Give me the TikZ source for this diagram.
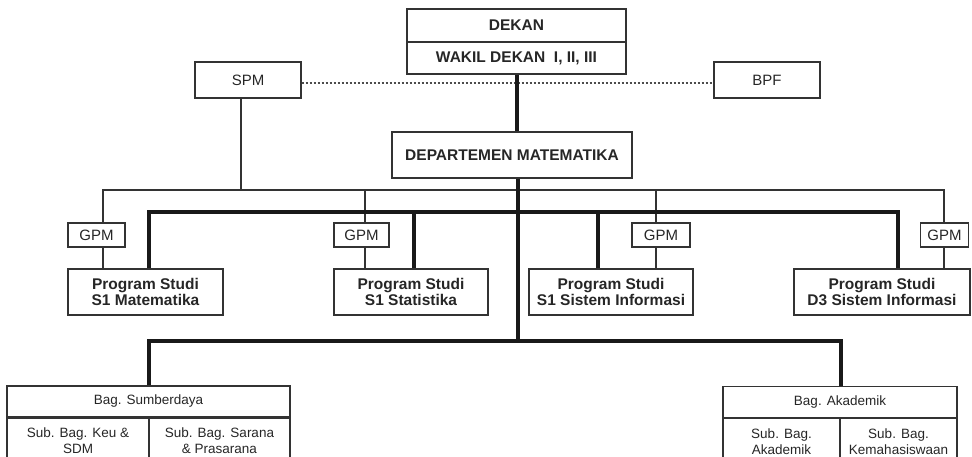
\documentclass[tikz,border=0pt]{standalone}
\usepackage{fontspec}
\setmainfont{Liberation Sans}
\begin{document}
\begin{tikzpicture}[x=1pt,y=-1pt,
  box/.style={draw=black!80, line width=1.3pt, rectangle, inner sep=0pt, align=center, text=black!85},
  title/.style={font=\fontsize{15.5}{16}\selectfont\bfseries},
  label/.style={font=\fontsize{15}{16}\selectfont},
  unit/.style={font=\fontsize{13.5}{16}\selectfont},
  thinline/.style={line width=1.3pt, draw=black!80},
  thickline/.style={line width=3.2pt, draw=black!90},
  dashline/.style={line width=1.4pt, draw=black!70, dash pattern=on 2.5pt off 1.5pt},
]
\clip (0,0) rectangle (972,456);
\useasboundingbox (0,0) rectangle (972,456);

% top management
\node[box,title,minimum width=219pt,minimum height=33pt] (dekan) at (516.5,25.5) {DEKAN};
\node[box,title,minimum width=219pt,minimum height=32pt] (wakil) at (516.5,58) {WAKIL DEKAN\ \ I, II, III};
\node[box,label,minimum width=106pt,minimum height=36pt] (spm) at (248,80) {SPM};
\node[box,label,minimum width=106pt,minimum height=36pt] (bpf) at (767,80) {BPF};
\node[box,title,minimum width=240pt,minimum height=46pt] (dept) at (512,155) {DEPARTEMEN MATEMATIKA};

% quality units
\node[box,label,minimum width=57pt,minimum height=24pt] (gpm1) at (96.5,235) {GPM};
\node[box,label,minimum width=55pt,minimum height=24pt] (gpm2) at (361.5,235) {GPM};
\node[box,label,minimum width=58pt,minimum height=24pt] (gpm3) at (661,235) {GPM};
\node[box,label,minimum width=48pt,minimum height=24pt] (gpm4) at (944.5,235) {GPM};

% study programmes
\node[box,title,minimum width=155pt,minimum height=46pt] (ps1) at (145.5,292) {Program Studi\\S1 Matematika};
\node[box,title,minimum width=154pt,minimum height=46pt] (ps2) at (411,292) {Program Studi\\S1 Statistika};
\node[box,title,minimum width=164pt,minimum height=46pt] (ps3) at (611,292) {Program Studi\\S1 Sistem Informasi};
\node[box,title,minimum width=176pt,minimum height=46pt] (ps4) at (882,292) {Program Studi\\D3 Sistem Informasi};

% administration
\node[box,unit,minimum width=283pt,minimum height=31pt] (bagS) at (148.5,401.5) {Bag. Sumberdaya};
\node[box,unit,minimum width=142pt,minimum height=45pt,anchor=north west] (keu) at (bagS.south west) {Sub. Bag. Keu \&\\SDM};
\node[box,unit,minimum width=141pt,minimum height=45pt,anchor=north east] (sarana) at (bagS.south east) {Sub. Bag. Sarana\\\& Prasarana};
\node[box,unit,minimum width=234pt,minimum height=31pt] (bagA) at (840,402) {Bag. Akademik};
\node[box,unit,minimum width=117pt,minimum height=45pt,anchor=north west] (subak) at (bagA.south west) {Sub. Bag.\\Akademik};
\node[box,unit,minimum width=117pt,minimum height=45pt,anchor=north east] (kemhs) at (bagA.south east) {Sub. Bag.\\Kemahasiswaan};

% bus junctions
\coordinate (tbus) at (241,190);
\coordinate (bus) at (518,212);
\coordinate (lowbus) at (518,341);

% coordination line
\draw[dashline] ([yshift=-3pt]spm.east) -- ([yshift=-3pt]spm.east -| bpf.west);

% thin quality-assurance lines
\draw[thinline] ([xshift=-7pt]spm.south) -- ([xshift=-7pt]spm.south |- tbus);
\draw[thinline] ([xshift=6.5pt]gpm1.north) |- (tbus) -| ([xshift=-0.5pt]gpm4.north);
\draw[thinline] ([xshift=3.5pt]gpm2.north) -- ([xshift=3.5pt]gpm2.north |- tbus);
\draw[thinline] ([xshift=-5pt]gpm3.north) -- ([xshift=-5pt]gpm3.north |- tbus);
\draw[thinline] ([xshift=6.5pt]gpm1.south) -- ([xshift=6.5pt]gpm1.south |- ps1.north);
\draw[thinline] ([xshift=3.5pt]gpm2.south) -- ([xshift=3.5pt]gpm2.south |- ps2.north);
\draw[thinline] ([xshift=-5pt]gpm3.south) -- ([xshift=-5pt]gpm3.south |- ps3.north);
\draw[thinline] ([xshift=-0.5pt]gpm4.south) -- ([xshift=-0.5pt]gpm4.south |- ps4.north);

% thick line of command
\draw[thickline] ([xshift=0.5pt]wakil.south) -- ([xshift=0.5pt]wakil.south |- dept.north);
\draw[thickline] (dept.south -| lowbus) -- (lowbus);
\draw[thickline] ([xshift=3.5pt]ps1.north) |- (bus) -| ([xshift=16pt]ps4.north);
\draw[thickline] ([xshift=3pt]ps2.north) -- ([xshift=3pt]ps2.north |- bus);
\draw[thickline] ([xshift=-13pt]ps3.north) -- ([xshift=-13pt]ps3.north |- bus);
\draw[thickline] ([xshift=0.5pt]bagS.north) |- (lowbus) -| ([xshift=1pt]bagA.north);
\end{tikzpicture}
\end{document}
